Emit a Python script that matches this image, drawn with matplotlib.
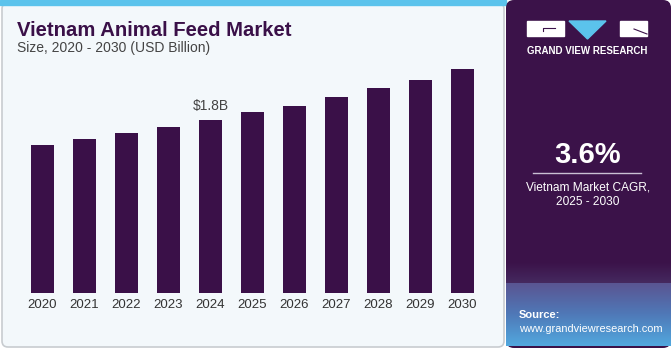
import matplotlib.pyplot as plt
import numpy as np
from matplotlib.patches import Rectangle, FancyBboxPatch, Polygon
from matplotlib.colors import LinearSegmentedColormap

# data
years = ['2020', '2021', '2022', '2023', '2024', '2025', '2026', '2027', '2028', '2029', '2030']
market_size = [1.54, 1.60, 1.66, 1.73, 1.80, 1.88, 1.95, 2.04, 2.13, 2.22, 2.33]
label_year = '2024'
label_text = '$1.8B'

plt.rcParams['font.family'] = ['Liberation Sans', 'DejaVu Sans']

W, H = 671, 350
purple = '#3a1048'
fig = plt.figure(figsize=(W / 100, H / 100), dpi=100)

# background / decoration layer in pixel coordinates
bg = fig.add_axes([0, 0, 1, 1])
bg.axis('off')
bg.add_patch(Rectangle((0, 0), W, H, color='white', zorder=0))
bg.add_patch(FancyBboxPatch((2, 3), 502, 344, boxstyle='round,pad=0,rounding_size=6',
                            fc='#f3f8fb', ec='#c8ccd0', lw=1.2, zorder=1))
bg.add_patch(Rectangle((0, 0), 506, 5, color='#5bc3ec', zorder=2))
bg.add_patch(FancyBboxPatch((506, 0), 165, 348, boxstyle='round,pad=0,rounding_size=8',
                            fc='#3b1249', ec='none', zorder=2))
# source area gradient
grad = np.linspace(0, 1, 100).reshape(-1, 1)
cm1 = LinearSegmentedColormap.from_list('g1', ['#3b1249', '#45295f'])
bg.imshow(grad, cmap=cm1, extent=[506, 671, 283, 262], aspect='auto', zorder=3)
cm2 = LinearSegmentedColormap.from_list('g2', ['#5a5592', '#4f79b8', '#52a8de'])
bg.imshow(grad, cmap=cm2, extent=[506, 671, 346, 283], aspect='auto', zorder=3)
bg.set_xlim(0, W)
bg.set_ylim(H, 0)

# logo
bg.add_patch(Rectangle((527, 21), 37, 15, color='white', zorder=4))
bg.plot([543, 543, 555], [31, 28, 28], color='#3b1249', lw=0.8, zorder=5)
bg.add_patch(Polygon([[569, 21], [606, 21], [587.5, 39]], color='#5bc3ec', zorder=4))
bg.add_patch(Rectangle((620, 21), 27, 15, color='white', zorder=4))
bg.plot([634, 647], [29, 34], color='#3b1249', lw=0.8, zorder=5)
bg.text(587, 51, 'GRAND VIEW RESEARCH', color='white', fontsize=7, fontweight='bold',
        ha='center', va='center', zorder=5)

# CAGR
bg.text(588, 155, '3.6%', color='white', fontsize=21, fontweight='bold',
        ha='center', va='center', zorder=5)
bg.plot([533, 641], [173, 173], color='#c9bfd3', lw=1, zorder=5)
bg.text(588, 187, 'Vietnam Market CAGR,', color='white', fontsize=8.6,
        ha='center', va='center', zorder=5)
bg.text(588, 202, '2025 - 2030', color='white', fontsize=8.6,
        ha='center', va='center', zorder=5)

# source
bg.text(519, 315, 'Source:', color='white', fontsize=8, fontweight='bold',
        ha='left', va='center', zorder=5)
bg.text(519, 329, 'www.grandviewresearch.com', color='white', fontsize=7.9,
        ha='left', va='center', zorder=5)

# titles
bg.text(17, 31, 'Vietnam Animal Feed Market', color='#3a1048', fontsize=14.6,
        fontweight='heavy', ha='left', va='center', zorder=5)
bg.text(17, 48, 'Size, 2020 - 2030 (USD Billion)', color='#444444', fontsize=10,
        ha='left', va='center', zorder=5)

# bar chart
base_px = 292.5
top_px = 60
ax = fig.add_axes([21.5 / W, (H - base_px) / H, 462 / W, (base_px - top_px) / H])
ax.patch.set_alpha(0)
x = np.arange(len(years))
ax.bar(x, market_size, width=0.548, color=purple)
ax.set_xlim(-0.5, 10.5)
ax.set_ylim(0, 1.8 / 172.5 * (base_px - top_px))
for s in ax.spines.values():
    s.set_visible(False)
ax.set_yticks([])
ax.set_xticks(x)
ax.set_xticklabels(years, fontsize=9.5, color='#333333')
ax.tick_params(axis='x', length=0, pad=5)
i = years.index(label_year)
ax.annotate(label_text, (x[i], market_size[i]), xytext=(0, 5), textcoords='offset points',
            ha='center', va='bottom', fontsize=10, color='#444444')

fig.savefig('out.png', dpi=100)
